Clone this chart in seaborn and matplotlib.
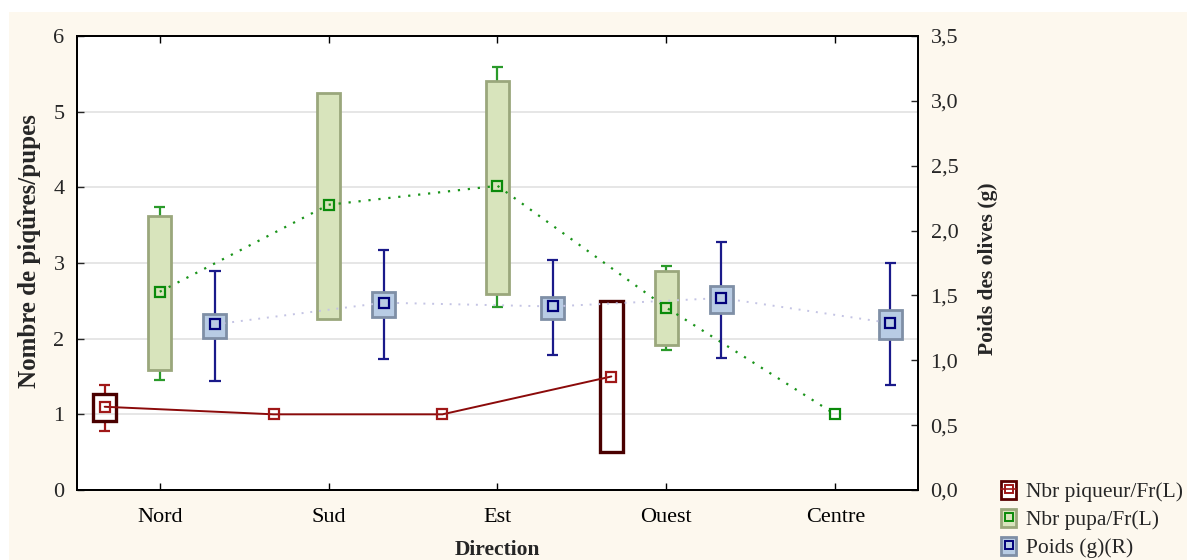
import numpy as np
import pandas as pd
import matplotlib
matplotlib.use("Agg")
import matplotlib.pyplot as plt
import seaborn as sns
from matplotlib.patches import Rectangle, Patch
from matplotlib.lines import Line2D
from matplotlib.ticker import FuncFormatter, FixedLocator

nan = np.nan
directions = ["Nord", "Sud", "Est", "Ouest", "Centre"]

# Nbr piqueur/Fr (left axis)
piq_mean = [1.10, 1.00, 1.00, 1.50, nan]
piq_box_lo = [0.91, nan, nan, 0.50, nan]
piq_box_hi = [1.265, nan, nan, 2.50, nan]
piq_wh_lo = [0.78, nan, nan, nan, nan]
piq_wh_hi = [1.39, nan, nan, nan, nan]

# Nbr pupa/Fr (left axis)
pupa_mean = [2.62, 3.77, 4.02, 2.41, 1.00]
pupa_box_lo = [1.586, 2.256, 2.59, 1.916, nan]
pupa_box_hi = [3.62, 5.25, 5.40, 2.89, nan]
pupa_wh_lo = [1.45, nan, 2.42, 1.85, nan]
pupa_wh_hi = [3.74, nan, 5.585, 2.96, nan]

# Poids (g) (right axis)
poids_mean = [1.277, 1.444, 1.415, 1.48, 1.287]
poids_box_lo = [1.17, 1.333, 1.32, 1.367, 1.167]
poids_box_hi = [1.354, 1.525, 1.487, 1.572, 1.385]
poids_wh_lo = [0.84, 1.01, 1.04, 1.018, 0.81]
poids_wh_hi = [1.685, 1.854, 1.77, 1.915, 1.749]

left_ticks = [0, 1, 2, 3, 4, 5, 6]
right_ticks = [0.0, 0.5, 1.0, 1.5, 2.0, 2.5, 3.0, 3.5]

sns.set_style("ticks")
plt.rcParams["font.family"] = ["Liberation Serif", "DejaVu Serif"]
plt.rcParams["mathtext.fontset"] = "stix"

fig = plt.figure(figsize=(11.87, 5.6), dpi=100, facecolor="white")
fig.patches.append(Rectangle((9 / 1187, 0), 1, 1 - 12 / 560, transform=fig.transFigure,
                             facecolor="#fdf8ee", edgecolor="none", zorder=-10))
ax = fig.add_axes([77 / 1187, 1 - 490 / 560, (918 - 77) / 1187, (490 - 36) / 560])
ax.set_facecolor("white")
ax2 = ax.twinx()

OFF = 0.326
BW = 0.135
CW = 0.034


def draw_series(a, offset, mean, blo, bhi, wlo, whi, fill, edge, elw, wcol, lcol, ls, lw, mcol):
    x = np.arange(len(directions)) + offset
    blo = np.array(blo, float); bhi = np.array(bhi, float)
    wlo = np.array(wlo, float); whi = np.array(whi, float)
    ok = ~np.isnan(wlo)
    a.vlines(x[ok], wlo[ok], blo[ok], color=wcol, lw=1.6, zorder=2)
    a.hlines(wlo[ok], x[ok] - CW, x[ok] + CW, color=wcol, lw=1.6, zorder=2)
    ok = ~np.isnan(whi)
    a.vlines(x[ok], bhi[ok], whi[ok], color=wcol, lw=1.6, zorder=2)
    a.hlines(whi[ok], x[ok] - CW, x[ok] + CW, color=wcol, lw=1.6, zorder=2)
    ok = ~np.isnan(blo)
    a.bar(x[ok], bhi[ok] - blo[ok], bottom=blo[ok], width=BW, color=fill,
          edgecolor=edge, linewidth=elw, zorder=3)
    df = pd.DataFrame({"x": x, "y": mean}).dropna()
    sns.lineplot(data=df, x="x", y="y", ax=a, color=lcol, linestyle=ls, lw=lw,
                 marker="s", markersize=7, markerfacecolor="none",
                 markeredgecolor=mcol, markeredgewidth=1.6, zorder=5, sort=False)


draw_series(ax, -OFF, piq_mean, piq_box_lo, piq_box_hi, piq_wh_lo, piq_wh_hi,
            "none", "#4a0000", 2.4, "#a01818", "#8b0a0a", "-", 1.4, "#a01818")
draw_series(ax, 0.0, pupa_mean, pupa_box_lo, pupa_box_hi, pupa_wh_lo, pupa_wh_hi,
            "#d8e4bc", "#9aa77c", 2.0, "#2a9a2a", "#1a941a", (0, (1, 3.5)), 1.6, "#0a8a0a")
draw_series(ax2, OFF, poids_mean, poids_box_lo, poids_box_hi, poids_wh_lo, poids_wh_hi,
            "#b8cce4", "#7f8fa6", 2.0, "#1a1a8a", "#c4c4e4", (0, (1, 3.5)), 1.4, "#00007a")

ax.set_xlim(-0.49, 4.49)
ax.set_ylim(0, 6)
ax2.set_ylim(0, 3.5)
ax.set_xticks(range(len(directions)))
ax.set_xticklabels(directions)
ax.yaxis.set_major_locator(FixedLocator(left_ticks))
ax2.yaxis.set_major_locator(FixedLocator(right_ticks))
ax2.yaxis.set_major_formatter(FuncFormatter(lambda v, p: f"{v:.1f}".replace(".", ",")))

ax.grid(axis="y", color="#e2e2e2", lw=1.2)
ax.set_axisbelow(True)
ax.tick_params(axis="x", direction="in", top=True, length=5, width=1, labelsize=16, pad=13,
               colors="black")
ax.tick_params(axis="y", direction="in", right=False, length=5, width=1, labelsize=16, pad=9)
ax2.tick_params(axis="y", direction="in", length=5, width=1, labelsize=16, pad=9)
for a in (ax, ax2):
    for s in a.spines.values():
        s.set_color("black")
        s.set_linewidth(1.4)

ax.set_xlabel("Direction", fontsize=15.5, fontweight="bold")
ax.xaxis.set_label_coords((497 - 77) / (918 - 77), -(550 - 490) / (490 - 36), transform=ax.transAxes)
ax.xaxis.label.set_va("center")
ax.set_ylabel("Nombre de piqûres/pupes", fontsize=18, fontweight="bold")
ax.yaxis.set_label_coords(-(77 - 30) / (918 - 77), (490 - 251) / (490 - 36), transform=ax.transAxes)
ax.yaxis.label.set_va("center")
ax2.set_ylabel("Poids des olives (g)", fontsize=15.5, fontweight="bold")
ax2.yaxis.set_label_coords((988 - 77) / (918 - 77), (490 - 269) / (490 - 36), transform=ax2.transAxes)
ax2.yaxis.label.set_va("center")

h1 = (Patch(facecolor="white", edgecolor="#5a0000", lw=2),
      Line2D([], [], color="#a01818", lw=1.2, marker="s", markersize=6,
             markerfacecolor="none", markeredgecolor="#a01818", markeredgewidth=1.4))
h2 = (Patch(facecolor="#d8e4bc", edgecolor="#9aa77c", lw=2),
      Line2D([], [], color="#1a941a", lw=0, marker="s", markersize=6,
             markerfacecolor="none", markeredgecolor="#0a8a0a", markeredgewidth=1.4))
h3 = (Patch(facecolor="#b8cce4", edgecolor="#7f8fa6", lw=2),
      Line2D([], [], color="#00007a", lw=0, marker="s", markersize=6,
             markerfacecolor="none", markeredgecolor="#00007a", markeredgewidth=1.4))
fig.legend([h1, h2, h3], ["Nbr piqueur/Fr(L)", "Nbr pupa/Fr(L)", "Poids (g)(R)"],
           loc="upper left", bbox_to_anchor=(1001 / 1187, 1 - 481 / 560), frameon=False,
           prop={"family": "Liberation Serif", "size": 15.5},
           handlelength=0.7, handleheight=0.9, handletextpad=0.45,
           labelspacing=0.3, borderpad=0, borderaxespad=0)

fig.savefig("out.png", dpi=100, facecolor="white")
